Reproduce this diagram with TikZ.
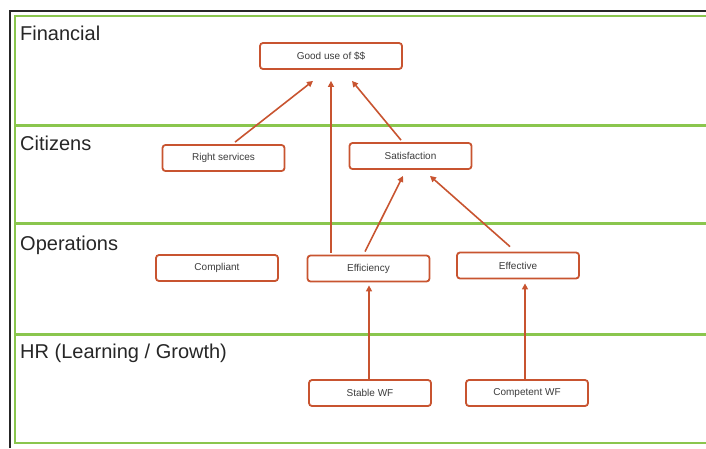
\documentclass[tikz,border=0pt]{standalone}
\usepackage{fontspec}
\setmainfont{Liberation Sans}
\usetikzlibrary{arrows.meta,calc}
\definecolor{lanegreen}{RGB}{138,198,78}
\definecolor{boxred}{RGB}{200,84,48}
\definecolor{txtgray}{RGB}{60,60,60}
\begin{document}
\begin{tikzpicture}[x=1pt,y=-1pt,
  lane/.style={draw=lanegreen,line width=3pt},
  lanelabel/.style={anchor=base west,inner sep=0pt,font=\fontsize{20}{22}\selectfont,text=black!85},
  goal/.style={draw=boxred,line width=1.8pt,rounded corners=3pt,fill=white,
    minimum width=122pt,minimum height=26pt,inner sep=0pt,
    font=\fontsize{10}{12}\selectfont,text=txtgray},
  arr/.style={draw=boxred,line width=1.6pt,-{Triangle[length=6pt,width=6pt]}}]
\useasboundingbox (0,0) rectangle (706,448);
% frame
\draw[black!85,line width=2pt] (10,448) -- (10,11) -- (707,11);
% green lanes
\draw[draw=lanegreen,line width=2.5pt] (708,16) -- (15,16) -- (15,443) -- (708,443);
\draw[lane] (15,125) -- (708,125);
\draw[lane] (15,223) -- (708,223);
\draw[lane] (15,334) -- (708,334);
% lane labels
\node[lanelabel] (lfin) at (20,40) {Financial};
\node[lanelabel] (lcit) at (20,150) {Citizens};
\node[lanelabel] (lops) at (20,250) {Operations};
\node[lanelabel] (lhr) at (20,358) {HR (Learning / Growth)};
% goals
\node[goal,minimum width=142pt] (good) at (331,56) {Good use of \$\$};
\node[goal] (right) at (223.5,158) {Right services};
\node[goal] (sat) at (410.5,156) {Satisfaction};
\node[goal] (comp) at (217,268) {Compliant};
\node[goal] (eff) at (368.5,268.5) {Efficiency};
\node[goal] (effv) at (518,265.5) {Effective};
\node[goal] (stab) at (370,393) {Stable WF};
\node[goal] (cwf) at (527,393) {Competent WF};
% connectors
\draw[arr] ($(right.north)+(11.5,-2)$) -- ($(good.south)+(-18,11)$);
\draw[arr] ($(eff.north)+(-37.5,-2)$) -- ($(good.south)+(0,11)$);
\draw[arr] ($(sat.north)+(-9.5,-2)$) -- ($(good.south)+(21,11)$);
\draw[arr] ($(eff.north)+(-3.5,-3)$) -- ($(sat.south)+(-7.5,6)$);
\draw[arr] ($(effv.north)+(-8,-5)$) -- ($(sat.south)+(19.5,6)$);
\draw[arr] ($(stab.north)+(-1,0)$) -- ($(eff.south)+(0.5,3)$);
\draw[arr] ($(cwf.north)+(-2,0)$) -- ($(effv.south)+(7,4)$);
\end{tikzpicture}
\end{document}
